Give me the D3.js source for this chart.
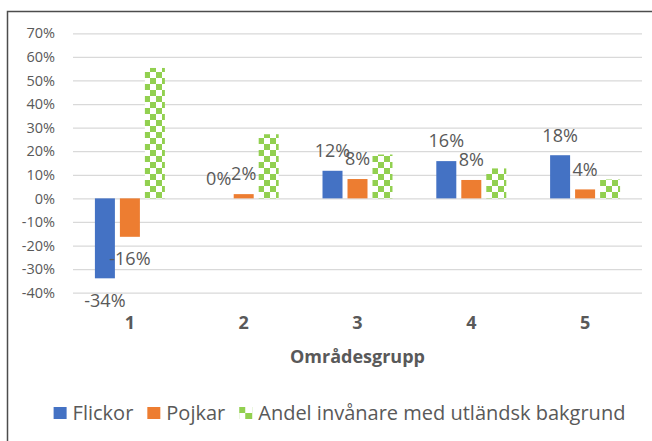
<!DOCTYPE html>
<html>
<head>
<meta charset="utf-8">
<script src="https://cdn.jsdelivr.net/npm/d3@7"></script>
<style>
  body { margin: 0; background: #fff; }
  text { font-family: "Open Sans", sans-serif; fill: #595959; }
</style>
</head>
<body>
<div id="chart"></div>
<script>
"use strict";
// data
const groups = ["1", "2", "3", "4", "5"];
const seriesNames = ["Flickor", "Pojkar", "Andel invånare med utländsk bakgrund"];
const flickor = [-0.339, 0.0, 0.117, 0.158, 0.183];
const pojkar = [-0.163, 0.018, 0.082, 0.078, 0.038];
const andel = [0.553, 0.272, 0.186, 0.127, 0.080];
const yTicks = [-0.4, -0.3, -0.2, -0.1, 0, 0.1, 0.2, 0.3, 0.4, 0.5, 0.6, 0.7];
const xTitle = "Områdesgrupp";

const seriesValues = [flickor, pojkar, andel];
const showLabels = [true, true, false];

const size = { width: 652, height: 441 };
const plot = { left: 73, right: 642, top: 33.3, bottom: 292.7 };

const svg = d3.select("#chart").append("svg")
    .attr("width", size.width)
    .attr("height", size.height);

// checkerboard fill used by the third series
const defs = svg.append("defs");
const pat = defs.append("pattern")
    .attr("id", "checker")
    .attr("patternUnits", "userSpaceOnUse")
    .attr("width", 12).attr("height", 12);
pat.append("rect").attr("width", 12).attr("height", 12).attr("fill", "#fff");
pat.append("rect").attr("width", 6).attr("height", 6).attr("fill", "#92D050");
pat.append("rect").attr("x", 6).attr("y", 6).attr("width", 6).attr("height", 6).attr("fill", "#92D050");

const color = d3.scaleOrdinal().domain(seriesNames).range(["#4472C4", "#ED7D31", "url(#checker)"]);

// outer frame (runs off the right and bottom edge)
svg.append("rect")
    .attr("x", 7.5).attr("y", 11.5)
    .attr("width", 700).attr("height", 500)
    .attr("fill", "none")
    .attr("stroke", "#4d4d4d")
    .attr("stroke-width", 1.5);

const x0 = d3.scaleBand().domain(groups).range([plot.left, plot.right]).padding(0);
const groupWidth = x0.bandwidth() * 0.615;
const x1 = d3.scaleBand().domain(seriesNames).range([0, groupWidth]).paddingInner(0.2);
const y = d3.scaleLinear().domain([-0.4, 0.7]).range([plot.bottom, plot.top]);

const pct = v => Math.round(v * 100) + "%";

// y axis + gridlines
const yAxis = d3.axisLeft(y)
    .tickValues(yTicks)
    .tickFormat(pct)
    .tickSize(-(plot.right - plot.left))
    .tickPadding(18);

const yg = svg.append("g")
    .attr("transform", "translate(" + plot.left + ",0)")
    .call(yAxis);
yg.select(".domain").remove();
yg.selectAll(".tick line").attr("stroke", "#d9d9d9").attr("stroke-width", 1.3);
yg.selectAll(".tick text")
    .style("font-family", "'Open Sans', sans-serif")
    .style("font-size", "14.5px")
    .attr("fill", "#595959");

// bars
const rows = [];
seriesNames.forEach((s, si) => {
    groups.forEach((g, gi) => {
        rows.push({ series: s, si: si, group: g, value: seriesValues[si][gi] });
    });
});

const barX = d => x0(d.group) + x0.bandwidth() / 2 - groupWidth / 2 + x1(d.series);

svg.append("g").selectAll("rect")
    .data(rows)
    .enter().append("rect")
    .attr("x", barX)
    .attr("y", d => y(Math.max(0, d.value)))
    .attr("width", x1.bandwidth())
    .attr("height", d => Math.abs(y(d.value) - y(0)))
    .attr("fill", d => color(d.series));

// data labels
svg.append("g").selectAll("text")
    .data(rows.filter(d => showLabels[d.si]))
    .enter().append("text")
    .attr("x", d => barX(d) + x1.bandwidth() / 2)
    .attr("y", d => d.value < 0 ? y(d.value) + 22 : y(d.value) - 20)
    .attr("dy", "0.35em")
    .attr("text-anchor", "middle")
    .style("font-size", "18px")
    .text(d => pct(d.value));

// category labels
svg.append("g").selectAll("text")
    .data(groups)
    .enter().append("text")
    .attr("x", d => x0(d) + x0.bandwidth() / 2)
    .attr("y", 329)
    .attr("text-anchor", "middle")
    .style("font-size", "18px")
    .style("font-weight", "bold")
    .text(d => d);

svg.append("text")
    .attr("x", (plot.left + plot.right) / 2)
    .attr("y", 363)
    .attr("text-anchor", "middle")
    .style("font-size", "18px")
    .style("font-weight", "bold")
    .text(xTitle);

// legend
const legend = svg.append("g");
let lx = 0;
seriesNames.forEach(s => {
    const item = legend.append("g").attr("transform", "translate(" + lx + ",0)");
    item.append("rect")
        .attr("x", 0).attr("y", 407)
        .attr("width", 13).attr("height", 12)
        .attr("fill", s === seriesNames[2] ? "#92D050" : color(s));
    if (s === seriesNames[2]) {
        item.append("rect").attr("x", 6).attr("y", 407).attr("width", 7).attr("height", 6).attr("fill", "#fff");
        item.append("rect").attr("x", 0).attr("y", 413).attr("width", 6).attr("height", 6).attr("fill", "#fff");
    }
    const t = item.append("text")
        .attr("x", 19).attr("y", 420)
        .style("font-size", "20px")
        .text(s);
    lx += 19 + t.node().getComputedTextLength() + 14;
});
const legendWidth = lx - 14;
legend.attr("transform", "translate(" + (339.5 - legendWidth / 2) + ",0)");
</script>
</body>
</html>
